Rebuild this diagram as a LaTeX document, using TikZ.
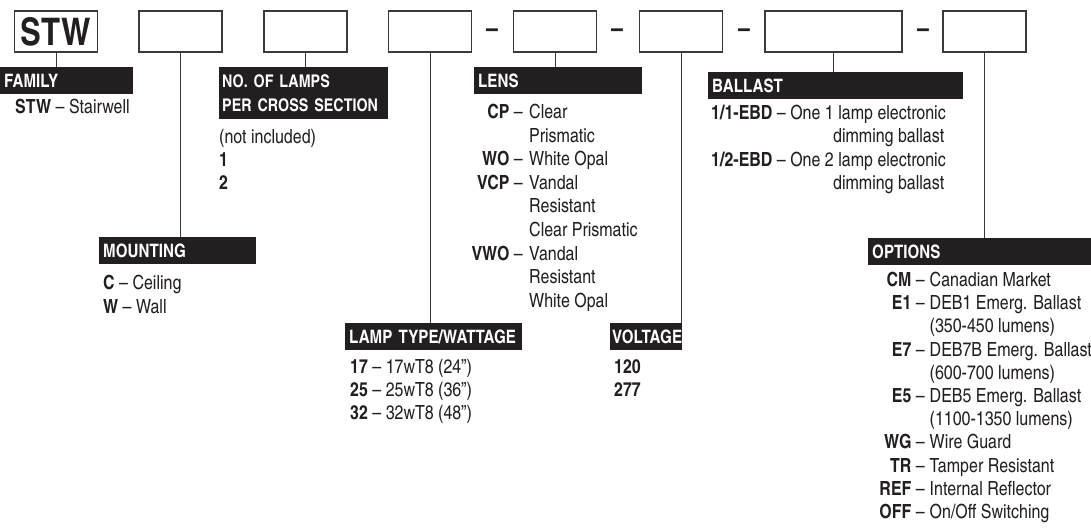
\documentclass[tikz,border=0pt]{standalone}
\usepackage{fontspec}
\setmainfont{texgyreheroscn}[Extension=.otf, UprightFont=*-regular, BoldFont=*-bold, ItalicFont=*-italic, BoldItalicFont=*-bolditalic]
\usetikzlibrary{positioning}
\definecolor{InkBlack}{HTML}{231F20}
\definecolor{BoxLine}{HTML}{3A3A3A}
\tikzset{
  codebox/.style={draw=BoxLine, line width=1.2pt, fill=white, minimum width=83pt, minimum height=41pt, inner sep=0pt, text=InkBlack, font=\fontsize{38}{38}\selectfont\bfseries},
  hdr/.style={fill=InkBlack, text=white, font=\fontsize{18.5}{24}\selectfont\bfseries, anchor=north west, inner xsep=4pt, inner ysep=0pt, minimum height=26.5pt, align=left},
  item/.style={text=InkBlack, font=\fontsize{19.5}{23}\selectfont, inner sep=0pt, anchor=base west},
  key/.style={item, anchor=base east},
  sep/.style={text=InkBlack, inner sep=0pt, font=\fontsize{26}{26}\selectfont\bfseries},
  link/.style={draw=BoxLine, line width=1pt}
}
\begin{document}
\begin{tikzpicture}[x=1pt, y=-1pt]
\useasboundingbox (0,0) rectangle (1091,529);

% catalogue number boxes
\node[codebox] (bSTW) at (56,31.5) {STW};
\node[codebox] (bMount) at (180.5,31.5) {};
\node[codebox] (bLamps) at (305.5,31.5) {};
\node[codebox] (bType) at (430,31.5) {};
\node[sep] (d1) at (492,33) {–};
\node[codebox] (bLens) at (555,31.5) {};
\node[sep] (d2) at (617,33) {–};
\node[codebox] (bVolt) at (681,31.5) {};
\node[sep] (d3) at (744,33) {–};
\node[codebox, minimum width=137pt] (bBall) at (833.5,31.5) {};
\node[sep] (d4) at (923,33) {–};
\node[codebox] (bOpt) at (984.5,31.5) {};

% family
\node[hdr, text width=125pt] (hFam) at (0,67) {FAMILY};
\node[item] (fam1) at (15,113.5) {\textbf{STW} – Stairwell};
\draw[link] (bSTW.south) -- (bSTW.south |- hFam.north);

% mounting
\node[hdr, text width=149pt] (hMount) at (99,237) {MOUNTING};
\node[item] (mnt1) at (103,289.5) {\textbf{C} – Ceiling};
\node[item] (mnt2) at (103,313) {\textbf{W} – Wall};
\draw[link] (bMount.south) -- (bMount.south |- hMount.north);

% number of lamps
\node[hdr, text width=163pt, inner xsep=3pt, minimum height=52pt, font=\fontsize{17.5}{24}\selectfont\bfseries] (hLamps) at (219,67) {\mbox{NO. OF LAMPS}\\\mbox{PER CROSS SECTION}};
\node[item] (lmp0) at (219,143.5) {(not included)};
\node[item] (lmp1) at (219,166.5) {\textbf{1}};
\node[item] (lmp2) at (219,189.5) {\textbf{2}};
\draw[link] (bLamps.south) -- (bLamps.south |- hLamps.north);

% lamp type
\node[hdr, text width=169pt] (hType) at (345,323) {LAMP TYPE/WATTAGE};
\node[item] (typ1) at (350,373.5) {\textbf{17} – 17wT8 (24")};
\node[item] (typ2) at (350,396.5) {\textbf{25} – 25wT8 (36")};
\node[item] (typ3) at (350,419.5) {\textbf{32} – 32wT8 (48")};
\draw[link] (bType.south) -- (bType.south |- hType.north);

% lens
\node[hdr, text width=160pt] (hLens) at (474,67) {LENS};
\foreach \k/\d [count=\i from 0] in {{\textbf{CP}\ –}/Clear, /Prismatic, {\textbf{WO}\ –}/White Opal,
    {\textbf{VCP}\ –}/Vandal, /Resistant, /Clear Prismatic, {\textbf{VWO}\ –}/Vandal, /Resistant, /White Opal} {
  \node[key] (lensK\i) at (523,118.5+23.6*\i) {\k};
  \node[item] (lensD\i) at (529,118.5+23.6*\i) {\d};
}
\draw[link] (bLens.south) -- (bLens.south |- hLens.north);

% voltage
\node[hdr, text width=68pt, inner xsep=2pt] (hVolt) at (610,323) {VOLTAGE};
\node[item] (vlt1) at (614,373.5) {\textbf{120}};
\node[item] (vlt2) at (614,396.5) {\textbf{277}};
\draw[link] (bVolt.south) -- (bVolt.south |- hVolt.north);

% ballast
\node[hdr, text width=247pt] (hBall) at (708,72) {BALLAST};
\node[item] (bal1) at (711,119.5) {\textbf{1/1-EBD} – One 1 lamp electronic};
\node[item] (bal2) at (833,143) {dimming ballast};
\node[item] (bal3) at (711,166.5) {\textbf{1/2-EBD} – One 2 lamp electronic};
\node[item] (bal4) at (833,190) {dimming ballast};
\draw[link] (bBall.south) -- (bBall.south |- hBall.north);

% options
\node[hdr, text width=215pt] (hOpt) at (868,238) {OPTIONS};
\foreach \k/\d [count=\i from 0] in {{\textbf{CM} –}/Canadian Market, {\textbf{E1} –}/DEB1 Emerg. Ballast,
    /(350-450 lumens), {\textbf{E7} –}/DEB7B Emerg. Ballast, /(600-700 lumens), {\textbf{E5} –}/DEB5 Emerg. Ballast,
    /(1100-1350 lumens), {\textbf{WG} –}/Wire Guard, {\textbf{TR} –}/Tamper Resistant,
    {\textbf{REF} –}/Internal Reflector, {\textbf{OFF} –}/{On/Off Switching}} {
  \node[key] (optK\i) at (925,286.5+23.2*\i) {\k};
  \node[item] (optD\i) at (929.5,286.5+23.2*\i) {\d};
}
\draw[link] (bOpt.south) -- (bOpt.south |- hOpt.north);
\end{tikzpicture}
\end{document}
